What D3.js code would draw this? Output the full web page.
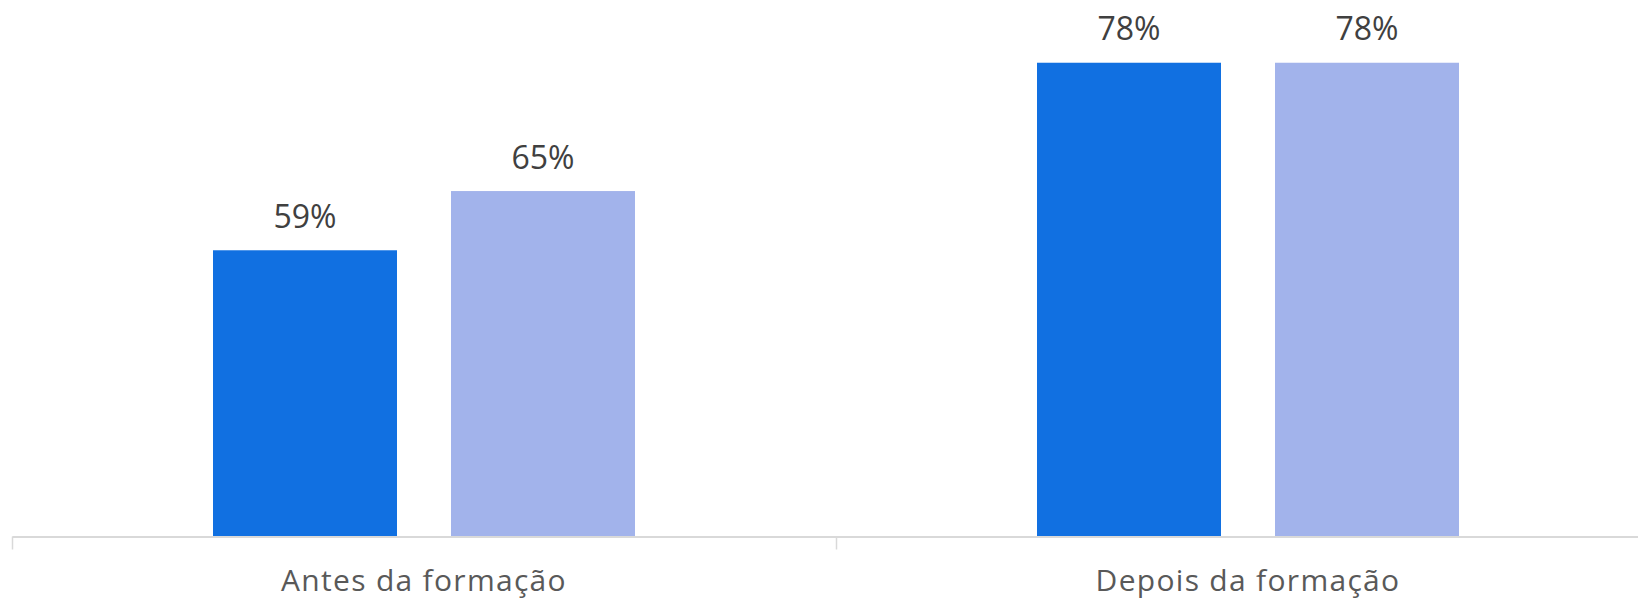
<!DOCTYPE html>
<html>
<head>
<meta charset="utf-8">
<script src="https://cdn.jsdelivr.net/npm/d3@7"></script>
<style>
  html, body { margin: 0; padding: 0; background: #fff; }
  svg { display: block; }
</style>
</head>
<body>
<svg id="chart" width="1638" height="600"></svg>
<script>
const categories = ["Antes da formação", "Depois da formação"];
const seriesNames = ["Série 1", "Série 2"];
const series1 = [59, 78];
const series2 = [65, 78];
const colors = ["#1170E1", "#A2B3EB"];

const svg = d3.select("#chart");
const baseY = 536.5;

const x = d3.scaleBand().domain(categories).range([12, 1660]).paddingInner(0).paddingOuter(0);
const xs = d3.scaleBand().domain(seriesNames).range([201, 201 + 422]).paddingInner(54 / 238).paddingOuter(0);
const y = d3.scaleLinear().domain([30, 80]).range([baseY, baseY - 9.87 * 50]);

const data = categories.map((c, i) => ({ cat: c, vals: [series1[i], series2[i]] }));

const g = svg.append("g");
data.forEach(d => {
  d.vals.forEach((v, j) => {
    const bx = x(d.cat) + xs(seriesNames[j]);
    g.append("rect")
      .attr("x", bx)
      .attr("y", y(v))
      .attr("width", xs.bandwidth())
      .attr("height", baseY - y(v))
      .attr("fill", colors[j]);
    g.append("text")
      .attr("x", bx + xs.bandwidth() / 2)
      .attr("y", y(v) - 22.5)
      .attr("text-anchor", "middle")
      .attr("font-family", "'Open Sans', sans-serif")
      .attr("font-size", 32)
      .attr("fill", "#404040")
      .text(v + "%");
  });
});

// axis
const axis = d3.axisBottom(x).tickSize(0).tickSizeOuter(0);
const ax = svg.append("g").attr("transform", `translate(0,${baseY})`).call(axis);
ax.select(".domain").attr("stroke", "#D9D9D9").attr("stroke-width", 2);
ax.selectAll(".tick line").remove();
ax.selectAll(".tick text")
  .attr("font-family", "'Open Sans', sans-serif")
  .attr("font-size", 30)
  .attr("letter-spacing", "1.3px")
  .attr("fill", "#595959")
  .attr("dy", 0)
  .attr("y", 591 - baseY);

// category boundary ticks
const bounds = categories.map(c => x(c)).concat([x(categories[1]) + x.bandwidth()]);
ax.selectAll("line.bound").data(bounds).enter().append("line")
  .attr("class", "bound")
  .attr("x1", d => d + 0.5).attr("x2", d => d + 0.5)
  .attr("y1", 0).attr("y2", 13)
  .attr("stroke", "#D9D9D9").attr("stroke-width", 1.5);
</script>
</body>
</html>
